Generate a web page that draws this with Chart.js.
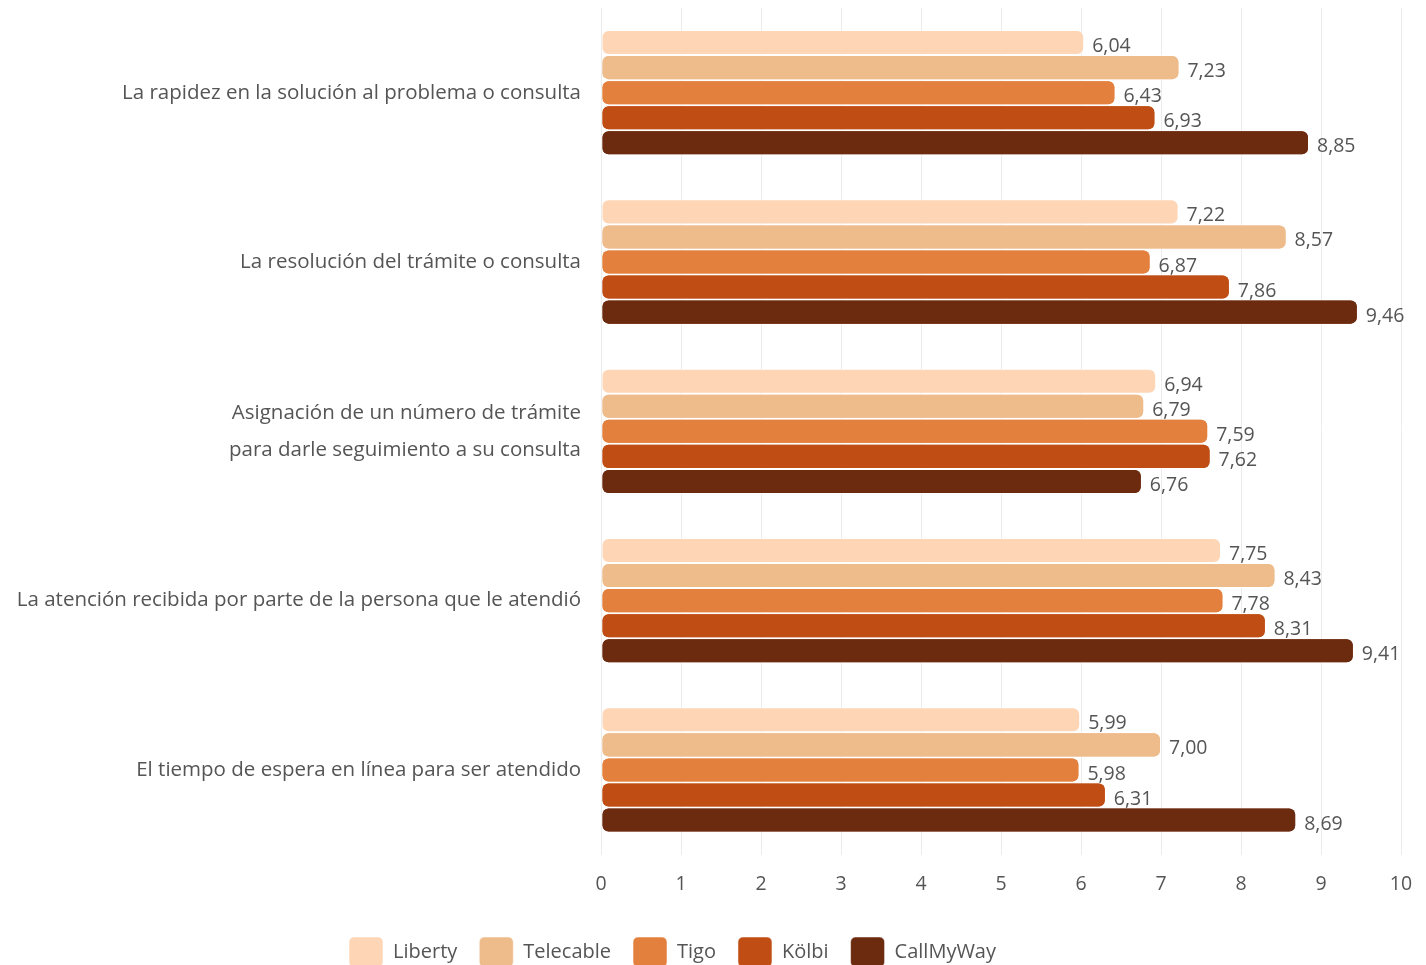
<!DOCTYPE html>
<html>
<head>
<meta charset="utf-8">
<script src="https://cdn.jsdelivr.net/npm/chart.js@4.4.1/dist/chart.umd.min.js"></script>
<style>
  html, body { margin: 0; padding: 0; background: #fff; }
  #wrap { width: 1426px; height: 965px; }
</style>
</head>
<body>
<div id="wrap"><canvas id="grafico"></canvas></div>
<script>
// categorias (de arriba hacia abajo)
const categorias = [
  "La rapidez en la solución al problema o consulta",
  "La resolución del trámite o consulta",
  ["Asignación de un número de trámite", "para darle seguimiento a su consulta"],
  "La atención recibida por parte de la persona que le atendió",
  "El tiempo de espera en línea para ser atendido"
];

const operadores = ["Liberty", "Telecable", "Tigo", "Kölbi", "CallMyWay"];
const colores = ["#FED5B5", "#EEBC8B", "#E4803D", "#C04D13", "#6C2A0E"];

const liberty   = [6.04, 7.22, 6.94, 7.75, 5.99];
const telecable = [7.23, 8.57, 6.79, 8.43, 7.00];
const tigo      = [6.43, 6.87, 7.59, 7.78, 5.98];
const kolbi     = [6.93, 7.86, 7.62, 8.31, 6.31];
const callmyway = [8.85, 9.46, 6.76, 9.41, 8.69];

const series = [liberty, telecable, tigo, kolbi, callmyway];
const ejeX = [0, 1, 2, 3, 4, 5, 6, 7, 8, 9, 10];

const grisTexto = "#555555";
const fuente = "'Open Sans', Lato, sans-serif";

// etiquetas de valor al final de cada barra (cada serie la tapa la siguiente)
const etiquetasValor = {
  id: "etiquetasValor",
  afterDatasetsDraw(chart) {
    const ctx = chart.ctx;
    chart.data.datasets.forEach((ds, i) => {
      const meta = chart.getDatasetMeta(i);
      if (i > 0) meta.data.forEach(el => el.draw(ctx, chart.chartArea));
      ctx.save();
      ctx.font = "19.5px " + fuente;
      ctx.fillStyle = grisTexto;
      ctx.textAlign = "left";
      ctx.textBaseline = "middle";
      meta.data.forEach((bar, j) => {
        const txt = ds.data[j].toFixed(2).replace(".", ",");
        ctx.fillText(txt, bar.x + 8, bar.y + 4);
      });
      ctx.restore();
    });
  }
};

// leyenda un poco corrida a la izquierda, como en el original
const moverLeyenda = {
  id: "moverLeyenda",
  afterLayout(chart) {
    const l = chart.legend;
    if (!l) return;
    l.left -= 32;
    l.right -= 32;
  }
};

document.addEventListener("DOMContentLoaded", function () {
  const ctx = document.getElementById("grafico").getContext("2d");

  new Chart(ctx, {
    type: "bar",
    data: {
      labels: categorias,
      datasets: series.map((valores, i) => ({
        label: operadores[i],
        data: valores,
        backgroundColor: colores[i],
        borderColor: "rgba(255,255,255,0.5)",
        borderWidth: 1,
        borderRadius: 7,
        borderSkipped: false,
        categoryPercentage: 0.74,
        barPercentage: 1
      }))
    },
    options: {
      indexAxis: "y",
      responsive: true,
      maintainAspectRatio: false,
      animation: false,
      layout: { padding: { top: 8, left: 8, right: 25, bottom: -12 } },
      scales: {
        x: {
          min: 0,
          max: 10,
          afterBuildTicks: axis => { axis.ticks = ejeX.map(v => ({ value: v })); },
          afterFit: axis => {
            axis.height += 1;
            axis.paddingLeft = 0;
            axis.paddingRight = 0;
          },
          grid: { color: "#ececec", lineWidth: 1, drawTicks: false },
          border: { display: false },
          ticks: { color: grisTexto, font: { family: fuente, size: 19.5 }, padding: 18 }
        },
        y: {
          afterFit: axis => {
            axis.width = 593;
            axis.paddingTop = 0;
            axis.paddingBottom = 0;
          },
          grid: { display: false, drawTicks: false },
          border: { display: false },
          ticks: {
            color: grisTexto,
            font: { family: fuente, size: 20.5, lineHeight: 1.8 },
            padding: 20
          }
        }
      },
      plugins: {
        legend: {
          position: "bottom",
          labels: {
            color: grisTexto,
            font: { family: fuente, size: 20 },
            boxWidth: 34,
            boxHeight: 30,
            useBorderRadius: true,
            borderRadius: 5,
            padding: 22
          }
        },
        tooltip: { enabled: false }
      }
    },
    plugins: [etiquetasValor, moverLeyenda]
  });
});
</script>
</body>
</html>
